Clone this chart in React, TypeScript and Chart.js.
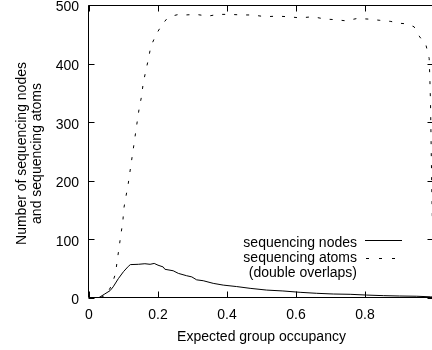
import React, { useEffect, useRef } from "react";
import { Chart, registerables } from "chart.js";

Chart.register(...registerables);

// ---- data ----
const nodesX = [0, 0.027, 0.046, 0.061, 0.07, 0.085, 0.1, 0.114, 0.12, 0.143, 0.162, 0.177, 0.189, 0.2, 0.215, 0.22, 0.244, 0.259, 0.283, 0.298, 0.312, 0.331, 0.36, 0.389, 0.428, 0.467, 0.515, 0.562, 0.612, 0.66, 0.708, 0.757, 0.805, 0.853, 0.9, 0.95, 0.99, 1.0];
const nodesY = [0, 0, 7, 12.5, 19, 33, 45, 54, 57, 57.5, 58.5, 57.5, 59, 56, 53, 49, 46.5, 42, 38, 36, 31, 29.5, 25, 22, 19.5, 16.5, 13.5, 12, 9.7, 8, 6.8, 6.3, 5, 4, 3.4, 3, 2, 1.5];

const atomsX = [0, 0.03, 0.05, 0.066, 0.077, 0.082, 0.087, 0.092, 0.098, 0.101, 0.107, 0.114, 0.122, 0.13, 0.138, 0.146, 0.152, 0.157, 0.164, 0.172, 0.179, 0.194, 0.211, 0.225, 0.24, 0.26, 0.28, 0.31, 0.345, 0.374, 0.409, 0.443, 0.475, 0.51, 0.545, 0.577, 0.612, 0.649, 0.684, 0.713, 0.745, 0.777, 0.809, 0.841, 0.875, 0.896, 0.919, 0.942, 0.957, 0.977, 0.986, 0.988, 0.99, 0.992, 0.994, 0.998, 1.0];
const atomsY = [0, 0, 5, 22, 42, 65, 85, 107, 130, 153, 173, 196, 229, 261, 294, 326, 343, 366, 386, 407, 429, 449, 466, 476, 481, 484, 483, 484, 481, 484, 484, 483, 483, 480, 481, 480, 478, 480, 476, 475, 473, 477, 476, 474, 472, 469, 468, 463, 447, 431, 409, 375, 330, 250, 170, 60, 10];

const xTickValues = [0, 0.2, 0.4, 0.6, 0.8];
const xTickLabels = ["0", "0.2", "0.4", "0.6", "0.8"];
const yTickValues = [0, 100, 200, 300, 400, 500];
const yTickLabels = ["0", "100", "200", "300", "400", "500"];
const legendLabels = ["sequencing nodes", "sequencing atoms", "(double overlaps)"];
const yTitleLines = ["Number of sequencing nodes", "and sequencing atoms"];
const xTitle = "Expected group occupancy";

const FONT = '14px "Liberation Sans", Arial, Helvetica, sans-serif';
const INK = "#000";

const gnuplotPlugin = {
  id: "gnuplotDecor",
  afterDraw(chart: any) {
    const { ctx, chartArea } = chart;
    const xs = chart.scales.x;
    const ys = chart.scales.y;
    const L = Math.round(chartArea.left) - 0.5;
    const R = Math.round(chartArea.right) - 0.5;
    const T = Math.round(chartArea.top) + 0.5;
    const B = Math.round(chartArea.bottom) - 0.5;
    ctx.save();
    ctx.strokeStyle = INK;
    ctx.lineWidth = 1;
    ctx.setLineDash([]);
    // frame
    ctx.beginPath();
    ctx.moveTo(L, T);
    ctx.lineTo(R, T);
    ctx.lineTo(R, B);
    ctx.lineTo(L, B);
    ctx.closePath();
    ctx.stroke();
    // ticks (inward, mirrored)
    const tl = 6;
    ctx.beginPath();
    xTickValues.forEach((v) => {
      const px = Math.round(xs.getPixelForValue(v)) + 0.5;
      ctx.moveTo(px, B);
      ctx.lineTo(px, B - tl);
      ctx.moveTo(px, T);
      ctx.lineTo(px, T + tl);
    });
    yTickValues.forEach((v) => {
      const py = Math.round(ys.getPixelForValue(v)) + 0.5;
      ctx.moveTo(L, py);
      ctx.lineTo(L + tl, py);
      ctx.moveTo(R, py);
      ctx.lineTo(R - tl, py);
    });
    ctx.stroke();

    ctx.fillStyle = INK;
    ctx.font = FONT;
    // x tick labels
    ctx.textAlign = "center";
    ctx.textBaseline = "middle";
    xTickValues.forEach((v, i) => {
      ctx.fillText(xTickLabels[i], xs.getPixelForValue(v), chartArea.bottom + 17);
    });
    // y tick labels
    ctx.textAlign = "right";
    yTickValues.forEach((v, i) => {
      ctx.fillText(yTickLabels[i], chartArea.left - 10, ys.getPixelForValue(v) + 2.5);
    });
    // x title
    ctx.textAlign = "center";
    ctx.fillText(xTitle, (chartArea.left + chartArea.right) / 2, chartArea.bottom + 39);
    // y title
    ctx.save();
    ctx.translate(0, (chartArea.top + chartArea.bottom) / 2 + 2);
    ctx.rotate(-Math.PI / 2);
    ctx.textAlign = "center";
    ctx.textBaseline = "alphabetic";
    ctx.fillText(yTitleLines[0], 0, 26);
    ctx.fillText(yTitleLines[1], 0, 41);
    ctx.restore();

    // legend
    const lx = 357;
    const ly = [243, 258, 273];
    ctx.textAlign = "right";
    ctx.textBaseline = "middle";
    legendLabels.forEach((t, i) => ctx.fillText(t, lx, ly[i]));
    ctx.lineWidth = 1;
    ctx.beginPath();
    ctx.moveTo(365, 240.5);
    ctx.lineTo(402, 240.5);
    ctx.stroke();
    ctx.setLineDash([3, 10]);
    ctx.beginPath();
    ctx.moveTo(366, 258.5);
    ctx.lineTo(402, 258.5);
    ctx.stroke();
    ctx.restore();
  },
};

export default function App() {
  const canvasRef = useRef<HTMLCanvasElement | null>(null);

  useEffect(() => {
    const canvas = canvasRef.current;
    if (!canvas) return;
    const chart = new Chart(canvas, {
      type: "line",
      data: {
        datasets: [
          {
            label: legendLabels[0],
            data: nodesX.map((x, i) => ({ x, y: nodesY[i] })),
            borderColor: INK,
            borderWidth: 1,
            pointRadius: 0,
            tension: 0,
            fill: false,
          },
          {
            label: legendLabels[1],
            data: atomsX.map((x, i) => ({ x, y: atomsY[i] })),
            borderColor: INK,
            borderWidth: 1,
            borderDash: [3, 9],
            pointRadius: 0,
            tension: 0,
            fill: false,
          },
        ],
      },
      options: {
        responsive: false,
        animation: false,
        devicePixelRatio: 1,
        layout: { padding: { left: 89, right: 6, top: 5, bottom: 52 } },
        plugins: { legend: { display: false }, tooltip: { enabled: false }, title: { display: false } },
        scales: {
          x: { type: "linear", min: 0, max: 1, display: false },
          y: { type: "linear", min: 0, max: 500, display: false },
        },
      },
      plugins: [gnuplotPlugin],
    });
    return () => chart.destroy();
  }, []);

  return (
    <div
      style={{
        position: "fixed",
        left: 0,
        top: 0,
        width: 432,
        height: 350,
        overflow: "hidden",
        background: "#fff",
      }}
    >
      <canvas ref={canvasRef} width={440} height={350} style={{ width: 440, height: 350, display: "block" }} />
    </div>
  );
}
